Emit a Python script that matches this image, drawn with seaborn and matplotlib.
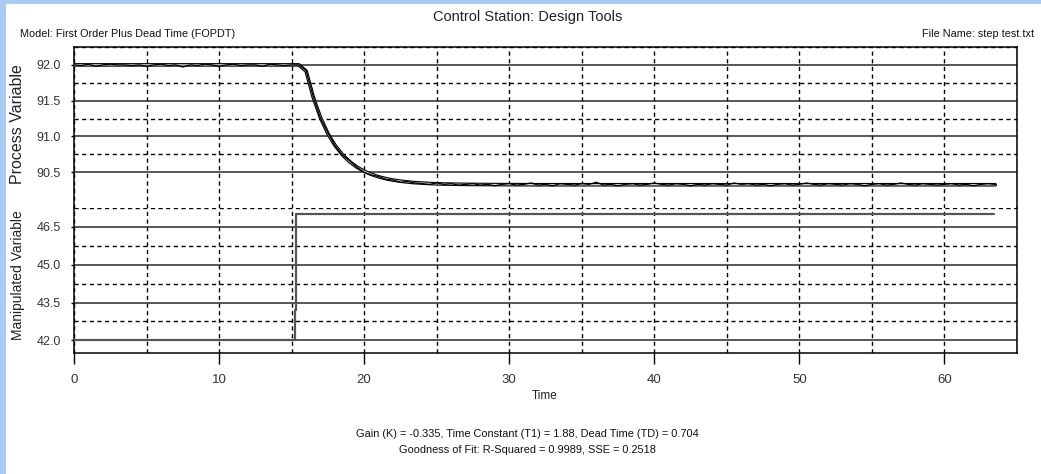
import numpy as np
import pandas as pd
import matplotlib
matplotlib.use("Agg")
import matplotlib.pyplot as plt
from matplotlib.patches import Rectangle
from matplotlib.ticker import MultipleLocator, FixedLocator
import seaborn as sns

# ---------------- data ----------------
time = np.arange(0, 63.75, 0.5)  # sample grid, 128 samples

pv_measured = [
    92.00, 91.99, 92.01, 91.98, 92.00, 92.01, 92.00, 92.00, 91.99, 92.00,
    91.98, 92.00, 92.01, 91.99, 92.00, 91.97, 92.00, 91.99, 92.01, 92.00,
    91.98, 92.00, 92.01, 91.99, 92.00, 92.00, 91.98, 92.01, 92.00, 91.99,
    92.00, 92.00,
    91.92, 91.55, 91.25, 91.05, 90.87, 90.74, 90.66, 90.57, 90.50, 90.46,
    90.44, 90.40, 90.39, 90.36, 90.37, 90.35, 90.34, 90.33, 90.35, 90.33,
    90.34, 90.32, 90.33,
    90.34, 90.32, 90.33, 90.31, 90.33, 90.34, 90.32, 90.33, 90.35, 90.32,
    90.33, 90.31, 90.34, 90.33, 90.32, 90.34, 90.33, 90.36, 90.32, 90.33,
    90.31, 90.33, 90.34, 90.32, 90.33, 90.35, 90.33, 90.32, 90.34, 90.33,
    90.31, 90.33, 90.32, 90.34, 90.33, 90.32, 90.35, 90.33, 90.34, 90.32,
    90.33, 90.31, 90.33, 90.34, 90.32, 90.33, 90.35, 90.33, 90.32, 90.34,
    90.33, 90.32, 90.34, 90.33, 90.31, 90.33, 90.34, 90.32, 90.33, 90.35,
    90.33, 90.32, 90.34, 90.33, 90.32, 90.33, 90.34, 90.32, 90.33, 90.31,
    90.33, 90.34, 90.33,
]

pv_model = [
    92.000, 92.000, 92.000, 92.000, 92.000, 92.000, 92.000, 92.000, 92.000, 92.000,
    92.000, 92.000, 92.000, 92.000, 92.000, 92.000, 92.000, 92.000, 92.000, 92.000,
    92.000, 92.000, 92.000, 92.000, 92.000, 92.000, 92.000, 92.000, 92.000, 92.000,
    92.000, 92.000,
    91.913, 91.542, 91.258, 91.040, 90.873, 90.745, 90.647, 90.572, 90.514, 90.470,
    90.436, 90.410, 90.390, 90.375, 90.363, 90.354, 90.348, 90.342, 90.338, 90.335,
    90.333, 90.331, 90.330,
    90.329, 90.328, 90.328, 90.327, 90.327, 90.326, 90.326, 90.326, 90.325, 90.325,
    90.325, 90.325, 90.325, 90.325, 90.325, 90.325, 90.325, 90.325, 90.325, 90.325,
    90.325, 90.325, 90.325, 90.325, 90.325, 90.325, 90.325, 90.325, 90.325, 90.325,
    90.325, 90.325, 90.325, 90.325, 90.325, 90.325, 90.325, 90.325, 90.325, 90.325,
    90.325, 90.325, 90.325, 90.325, 90.325, 90.325, 90.325, 90.325, 90.325, 90.325,
    90.325, 90.325, 90.325, 90.325, 90.325, 90.325, 90.325, 90.325, 90.325, 90.325,
    90.325, 90.325, 90.325, 90.325, 90.325, 90.325, 90.325, 90.325, 90.325, 90.325,
    90.325, 90.325, 90.325,
]

mv_time = [0.0, 15.20, 15.20, 15.27, 15.27, 15.33, 15.33, 63.4]
mv_values = [42.0, 42.0, 43.2, 43.2, 45.8, 45.8, 47.0, 47.0]

pv_ticks = [90.5, 91.0, 91.5, 92.0]
mv_ticks = [42.0, 43.5, 45.0, 46.5]
time_ticks = [0, 10, 20, 30, 40, 50, 60]

title = "Control Station: Design Tools"
model_text = "Model: First Order Plus Dead Time (FOPDT)"
file_text = "File Name: step test.txt"
footer1 = "Gain (K) = -0.335, Time Constant (T1) = 1.88, Dead Time (TD) = 0.704"
footer2 = "Goodness of Fit: R-Squared = 0.9989, SSE = 0.2518"

pv_df = pd.DataFrame({"Time": time, "measured": pv_measured, "model": pv_model})
mv_df = pd.DataFrame({"Time": mv_time, "MV": mv_values})

# ---------------- styling ----------------
sns.set_style("white")
plt.rcParams["font.family"] = ["Liberation Sans", "DejaVu Sans"]

W, H = 1041, 474
fig = plt.figure(figsize=(W / 100, H / 100), dpi=100)
fig.patch.set_facecolor("#a9cbf2")
fig.patches.append(Rectangle((6 / W, 0), 1, 1 - 4 / H, transform=fig.transFigure,
                             facecolor="white", edgecolor="none", zorder=-10))

L = 74 / W
AW = (1017 - 74) / W
ax1 = fig.add_axes([L, 1 - 208 / H, AW, (208 - 47) / H])
ax2 = fig.add_axes([L, 1 - 353 / H, AW, (353 - 208) / H], sharex=ax1)

dash = (0, (3, 2.5))

# model line (hollow look) then measured data
sns.lineplot(data=pv_df, x="Time", y="model", ax=ax1, color="black", lw=2.6,
             estimator=None, sort=False, zorder=3)
sns.lineplot(data=pv_df, x="Time", y="model", ax=ax1, color="#d8d8d8", lw=1.0,
             estimator=None, sort=False, zorder=4)
sns.lineplot(data=pv_df, x="Time", y="measured", ax=ax1, color="black", lw=0.9,
             estimator=None, sort=False, zorder=5)
sns.lineplot(data=mv_df, x="Time", y="MV", ax=ax2, color="#555555", lw=1.6,
             estimator=None, sort=False, zorder=3)

ax1.set_xlim(0, 65)
ax1.set_ylim(90.0, 92.25)
ax2.set_ylim(41.5, 47.25)

for ax, ticks, step in ((ax1, pv_ticks, 0.5), (ax2, mv_ticks, 1.5)):
    ax.set_facecolor("white")
    ax.set_yticks(ticks)
    ax.set_yticklabels([f"{t:.1f}" for t in ticks])
    ax.yaxis.set_minor_locator(FixedLocator([t + step / 2 for t in ticks]))
    ax.xaxis.set_major_locator(FixedLocator(time_ticks))
    ax.xaxis.set_minor_locator(MultipleLocator(5))
    ax.grid(which="major", axis="y", color="#2a2a2a", lw=1.1, ls="-")
    ax.grid(which="minor", axis="y", color="black", lw=1.0, ls=dash)
    ax.grid(which="both", axis="x", color="black", lw=1.0, ls=dash)
    ax.set_axisbelow(True)
    ax.set_xlabel("")
    ax.set_ylabel("")
    for s in ax.spines.values():
        s.set_color("black")
        s.set_linewidth(1.1)
    ax.tick_params(axis="y", which="major", left=True, length=2.5, width=1,
                   pad=7, labelsize=9, labelcolor="#333333", color="black")
    ax.tick_params(axis="both", which="minor", length=0)

ax1.spines["bottom"].set_linestyle((0, (3, 2.5)))
ax1.spines["bottom"].set_linewidth(0.7)
ax1.spines["bottom"].set_color("#555555")
ax2.spines["top"].set_visible(False)
ax1.tick_params(axis="x", which="major", length=0, labelbottom=False)
ax2.tick_params(axis="x", which="major", bottom=True, length=8, width=1,
                pad=7, labelsize=9.5, labelcolor="#333333", color="black")
ax2.set_xticklabels([str(t) for t in time_ticks])

# ---------------- texts ----------------
def px(x, y):
    return x / W, 1 - y / H

fig.text(*px(528, 17), title, ha="center", va="center", fontsize=10.5, color="#222222")
fig.text(*px(20, 34), model_text, ha="left", va="center", fontsize=7.8, color="#111111")
fig.text(*px(1034, 34), file_text, ha="right", va="center", fontsize=7.8, color="#111111")
fig.text(*px(18, 124), "Process Variable", ha="center", va="center", rotation=90,
         fontsize=11.5, color="#222222")
fig.text(*px(18, 275), "Manipulated Variable", ha="center", va="center", rotation=90,
         fontsize=10, color="#222222")
fig.text(*px(545, 396), "Time", ha="center", va="center", fontsize=8.5, color="#222222")
fig.text(*px(527, 434), footer1, ha="center", va="center", fontsize=7.9, color="#111111")
fig.text(*px(527, 450), footer2, ha="center", va="center", fontsize=7.9, color="#111111")

fig.savefig("out.png", dpi=100, facecolor=fig.get_facecolor())
